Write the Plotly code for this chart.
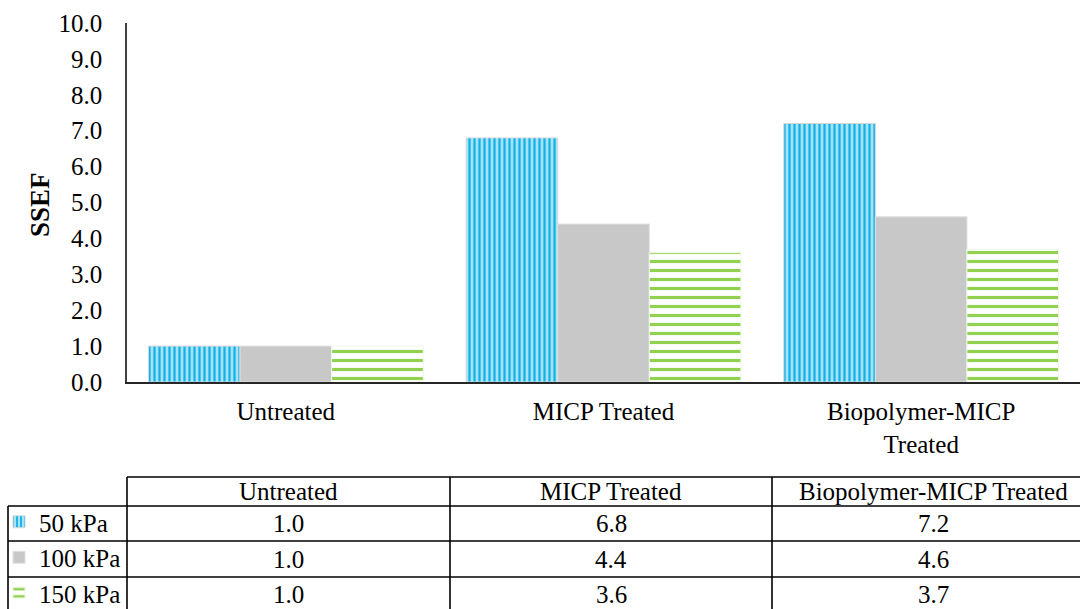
import plotly.graph_objects as go

# Soil stabilisation efficiency factor (SSEF) per treatment and confining pressure
categories = ["Untreated", "MICP Treated", "Biopolymer-MICP Treated"]
tick_labels = ["Untreated", "MICP Treated", "Biopolymer-MICP<br>Treated"]
series_names = ["50 kPa", "100 kPa", "150 kPa"]
ssef_50 = [1.0, 6.8, 7.2]
ssef_100 = [1.0, 4.4, 4.6]
ssef_150 = [1.0, 3.6, 3.7]
y_ticks = [0, 1, 2, 3, 4, 5, 6, 7, 8, 9, 10]

FONT = "Times New Roman, Liberation Serif, serif"
FS = 25

W, H = 1080, 609
PL, PR, PT, PB = 127, 1080, 23, 382  # plot area edges in pixels


def fx(px):
    return (px - PL) / (PR - PL)


def fy(py):
    return (PB - py) / (PB - PT)


fig = go.Figure()

fig.add_bar(
    name=series_names[0], x=categories, y=ssef_50,
    marker=dict(
        color="#9fdcf3",
        line=dict(color="#d8d8d8", width=1),
        pattern=dict(shape="|", fgcolor="#10b2e8", bgcolor="#a8e2f7",
                     size=5, solidity=0.45, fillmode="replace"),
    ),
    legendgroup="a",
)
fig.add_bar(
    name=series_names[1], x=categories, y=ssef_100,
    marker=dict(color="#c8c8c8", line=dict(color="#e0e0e0", width=1)),
    legendgroup="b",
)
fig.add_bar(
    name=series_names[2], x=categories, y=ssef_150,
    marker=dict(
        color="white",
        line=dict(color="#eef7e6", width=1),
        pattern=dict(shape="-", fgcolor="#92d050", bgcolor="white",
                     size=9, solidity=0.35, fillmode="replace"),
    ),
    legendgroup="c",
)

# Data table drawn underneath the chart
col_edges = [127, 450, 772, 1094]
row_edges = [477, 506, 541, 577, 612]
line_style = dict(color="#000000", width=1.6)
shapes = []
# header row top border (no cell above the row-label column)
shapes.append(dict(type="line", xref="paper", yref="paper",
                   x0=fx(col_edges[0]), x1=fx(col_edges[-1]),
                   y0=fy(row_edges[0]), y1=fy(row_edges[0]), line=line_style))
for r in row_edges[1:]:
    shapes.append(dict(type="line", xref="paper", yref="paper",
                       x0=fx(8), x1=fx(col_edges[-1]),
                       y0=fy(r), y1=fy(r), line=line_style))
shapes.append(dict(type="line", xref="paper", yref="paper",
                   x0=fx(8), x1=fx(8),
                   y0=fy(row_edges[1]), y1=fy(row_edges[-1]), line=line_style))
for c in col_edges:
    shapes.append(dict(type="line", xref="paper", yref="paper",
                       x0=fx(c), x1=fx(c),
                       y0=fy(row_edges[0]), y1=fy(row_edges[-1]), line=line_style))

annotations = []
for i, cat in enumerate(categories):
    cx = (col_edges[i] + col_edges[i + 1]) / 2
    annotations.append(dict(
        text=cat, xref="paper", yref="paper", x=fx(cx),
        y=fy((row_edges[0] + row_edges[1]) / 2), showarrow=False,
        xanchor="center", yanchor="middle",
        font=dict(family=FONT, size=FS, color="black")))
    for j, vals in enumerate([ssef_50, ssef_100, ssef_150]):
        annotations.append(dict(
            text=f"{vals[i]:.1f}", xref="paper", yref="paper", x=fx(cx),
            y=fy((row_edges[j + 1] + row_edges[j + 2]) / 2), showarrow=False,
            xanchor="center", yanchor="middle",
            font=dict(family=FONT, size=FS, color="black")))

annotations.append(dict(
    text="<b>SSEF</b>", xref="paper", yref="paper", x=fx(40), y=fy(205),
    textangle=-90, showarrow=False, xanchor="center", yanchor="middle",
    font=dict(family=FONT, size=27, color="black")))

fig.update_layout(
    width=W, height=H,
    margin=dict(l=PL, r=W - PR, t=PT, b=H - PB, pad=0, autoexpand=False),
    paper_bgcolor="white", plot_bgcolor="white",
    barmode="group", bargap=0.135, bargroupgap=0,
    font=dict(family=FONT, size=FS, color="black"),
    showlegend=True,
    legend=dict(
        x=fx(-1), y=fy(499), xanchor="left", yanchor="top",
        bgcolor="rgba(0,0,0,0)", borderwidth=0,
        font=dict(family=FONT, size=FS, color="black"),
        tracegroupgap=0, itemclick=False, itemdoubleclick=False,
    ),
    shapes=shapes,
    annotations=annotations,
)

fig.update_xaxes(
    type="category", tickmode="array", tickvals=categories, ticktext=tick_labels,
    showline=True, linecolor="#262626", linewidth=2, ticks="",
    showgrid=False, zeroline=False, ticklabelstandoff=6,
    tickfont=dict(family=FONT, size=FS, color="black"),
)
fig.update_yaxes(
    range=[0, 10], tickmode="array", tickvals=y_ticks,
    ticktext=[f"{v:.1f}" for v in y_ticks],
    showline=True, linecolor="#404040", linewidth=1.5, ticks="",
    showgrid=False, zeroline=False, ticklabelstandoff=18,
    tickfont=dict(family=FONT, size=FS, color="black"),
)

fig.write_html("out.html")
